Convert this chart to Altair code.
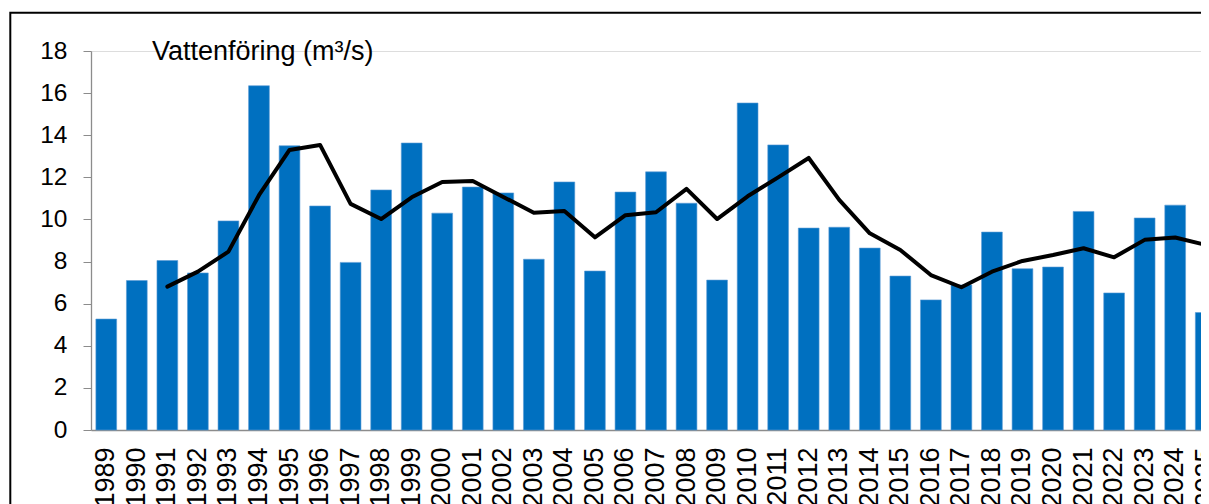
import altair as alt
import pandas as pd

years = [str(y) for y in range(1989, 2026)]
flow = [5.27, 7.10, 8.05, 7.46, 9.93, 16.35, 13.50, 10.64, 7.96, 11.40,
        13.63, 10.30, 11.54, 11.26, 8.11, 11.78, 7.55, 11.30, 12.26, 10.77,
        7.12, 15.53, 13.54, 9.59, 9.63, 8.64, 7.31, 6.18, 6.89, 9.40,
        7.66, 7.74, 10.38, 6.51, 10.07, 10.68, 5.58]

avg_years = [str(y) for y in range(1991, 2026)]
avg = [6.81, 7.52, 8.47, 11.15, 13.30, 13.54, 10.74, 10.02, 11.05, 11.78,
       11.83, 11.07, 10.32, 10.40, 9.15, 10.20, 10.34, 11.45, 10.02, 11.10,
       12.00, 12.92, 10.93, 9.34, 8.55, 7.36, 6.78, 7.52, 8.03, 8.31,
       8.63, 8.20, 9.03, 9.14, 8.79]

y_ticks = [0, 2, 4, 6, 8, 10, 12, 14, 16, 18]
label_text = "Vattenföring (m³/s)"

FONT = "Liberation Sans"
PAD_L, PAD_T = 83, 43
W, H = 1193 - PAD_L, 379          # visible plot width / height
BAND_RANGE = 1130                  # full band extent (runs past the page edge)

bars_df = pd.DataFrame({"year": years, "flow": flow})
line_df = pd.DataFrame({"year": avg_years, "avg": avg})

xscale = alt.Scale(domain=years, range=[0, BAND_RANGE],
                   paddingInner=0.32, paddingOuter=0.16)
yscale = alt.Scale(domain=[0, 18], nice=False)

x_axis = alt.Axis(title=None, labelAngle=-90, labelFont=FONT, labelFontSize=27,
                  labelColor="black", labelPadding=17, ticks=False,
                  domainColor="#8c8c8c", domainWidth=1.3, labelOverlap=False,
                  labelBound=False, labelFlush=False)
y_axis = alt.Axis(title=None, values=y_ticks, labelFont=FONT, labelFontSize=24.5,
                  labelColor="black", labelPadding=16, tickSize=8,
                  tickColor="#8c8c8c", domainColor="#8c8c8c", domainWidth=1.3,
                  grid=False)

bars = alt.Chart(bars_df).mark_bar(color="#0070C0", stroke="#5b9bd5",
                                   strokeWidth=0.6).encode(
    x=alt.X("year:N", scale=xscale, axis=x_axis, sort=None),
    y=alt.Y("flow:Q", scale=yscale, axis=y_axis),
)

line = alt.Chart(line_df).mark_line(color="black", strokeWidth=4,
                                    strokeJoin="round", strokeCap="round").encode(
    x=alt.X("year:N", scale=xscale, sort=None),
    y=alt.Y("avg:Q", scale=yscale),
)

text = alt.Chart(pd.DataFrame({"t": [label_text]})).mark_text(
    font=FONT, fontSize=27, align="left", baseline="alphabetic", color="black"
).encode(text="t:N", x=alt.value(61), y=alt.value(9))

frame = alt.Chart(pd.DataFrame({"t": [0]})).mark_rect(
    fill="transparent", stroke="black", strokeWidth=2, clip=False
).encode(x=alt.value(-80.7), x2=alt.value(1400), y=alt.value(-38.2),
         y2=alt.value(700))

chart = alt.layer(frame, bars, line, text).properties(
    width=W, height=H,
    autosize=alt.AutoSizeParams(type="none"),
    padding={"left": PAD_L, "top": PAD_T, "right": 0, "bottom": 80},
).configure_view(stroke=None).configure(background="white")

chart.save("out.html", embed_options={"renderer": "svg", "actions": False})
